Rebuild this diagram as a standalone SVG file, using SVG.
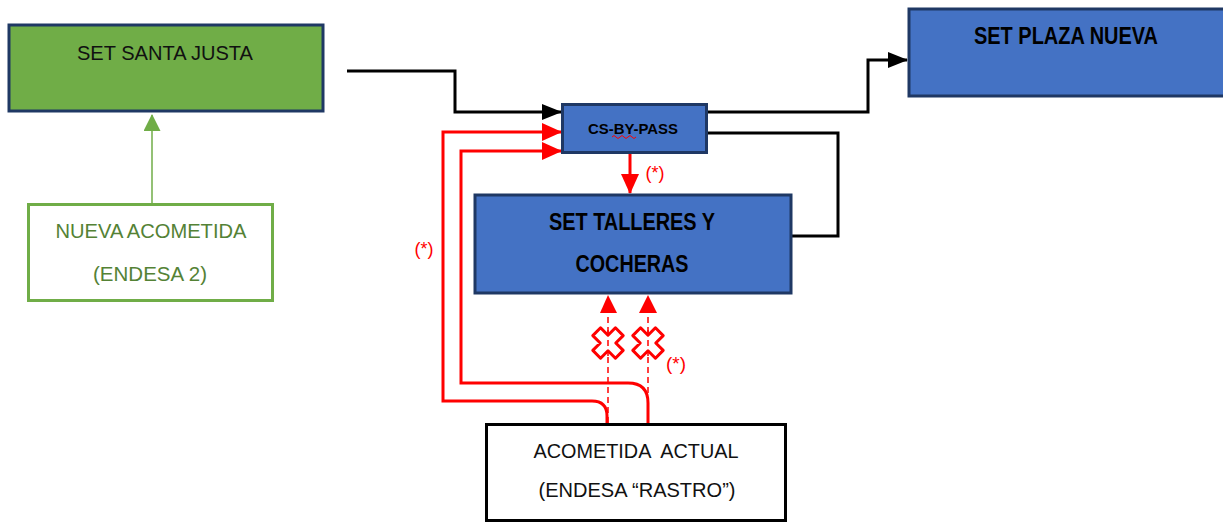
<svg xmlns="http://www.w3.org/2000/svg" width="1223" height="524" viewBox="0 0 1223 524">
<style>
.t{font-family:"Liberation Sans",Arial,sans-serif;text-anchor:middle;white-space:pre}
.b{font-weight:bold;fill:#000}
.n{fill:#111}
.g{fill:#548235}
.r{fill:#ff0000;font-size:19px}
.blue{fill:#4472C4;stroke:#1F3864;stroke-width:3}
.blk{fill:none;stroke:#000;stroke-width:3}
.red{fill:none;stroke:#ff0000;stroke-width:3}
.dash{fill:none;stroke:#ff0000;stroke-width:1.5;stroke-dasharray:6 4}
</style>
<defs>
<marker id="ab" markerWidth="20" markerHeight="16" refX="19" refY="8" orient="auto" markerUnits="userSpaceOnUse"><path d="M0,0 L20,8 L0,16 Z" fill="#000"/></marker>
<marker id="ar" markerWidth="20" markerHeight="18" refX="19" refY="9" orient="auto" markerUnits="userSpaceOnUse"><path d="M0,0 L20,9 L0,18 Z" fill="#ff0000"/></marker>
<marker id="ag" markerWidth="17" markerHeight="17" refX="16" refY="8.5" orient="auto" markerUnits="userSpaceOnUse"><path d="M0,0 L17,8.5 L0,17 Z" fill="#70AD47"/></marker>
<path id="xm" d="M-5.5,-16 L5.5,-16 L5.5,-5.5 L16,-5.5 L16,5.5 L5.5,5.5 L5.5,16 L-5.5,16 L-5.5,5.5 L-16,5.5 L-16,-5.5 L-5.5,-5.5 Z" fill="#fff" stroke="#ff0000" stroke-width="3" stroke-linejoin="round"/>
</defs>

<g id="connectors">
<path class="blk" d="M347,71 H455 V112 H561" marker-end="url(#ab)"/>
<path class="blk" d="M707,112 H868 V60 H907" marker-end="url(#ab)"/>
<path class="blk" d="M707,133 H838 V236 H789"/>
<path d="M152,203 V115" stroke="#70AD47" stroke-width="1.5" fill="none" marker-end="url(#ag)"/>
<path class="red" d="M630,154 V193" marker-end="url(#ar)"/>
<path class="red" d="M607,423 V416 Q607,401 592,401 H443 V132 H561" marker-end="url(#ar)"/>
<path class="red" d="M648,423 V403 Q648,383 628,383 H461 V151 H561" marker-end="url(#ar)"/>
<path class="dash" d="M608,423 V310"/>
<path class="dash" d="M648,423 V310"/>
<path d="M600,313 L608,295 L617,313 Z" fill="#ff0000"/>
<path d="M639,313 L648,295 L657,313 Z" fill="#ff0000"/>
<use href="#xm" transform="translate(608,343) rotate(45)"/>
<use href="#xm" transform="translate(648,343) rotate(45)"/>
<line x1="608" y1="330" x2="608" y2="356" stroke="#ff0000" stroke-width="1.5" stroke-dasharray="6 4"/>
<line x1="648" y1="330" x2="648" y2="356" stroke="#ff0000" stroke-width="1.5" stroke-dasharray="6 4"/>
<text class="t r" x="655" y="179" textLength="19" lengthAdjust="spacingAndGlyphs">(*)</text>
<text class="t r" x="424" y="255" textLength="19" lengthAdjust="spacingAndGlyphs">(*)</text>
<text class="t r" x="676" y="370" textLength="20" lengthAdjust="spacingAndGlyphs">(*)</text>
</g>

<g id="set-santa-justa">
<rect x="9" y="25" width="314" height="86" fill="#70AD47" stroke="#1F3864" stroke-width="3"/>
<text class="t n" x="165" y="60" font-size="21" textLength="176" lengthAdjust="spacingAndGlyphs">SET SANTA JUSTA</text>
</g>

<g id="nueva-acometida">
<rect x="28.5" y="204.5" width="244" height="96" fill="#fff" stroke="#70AD47" stroke-width="3"/>
<text class="t g" x="151" y="238" font-size="21" textLength="191" lengthAdjust="spacingAndGlyphs">NUEVA ACOMETIDA</text>
<text class="t g" x="150" y="281" font-size="21" textLength="114" lengthAdjust="spacingAndGlyphs">(ENDESA 2)</text>
</g>

<g id="cs-by-pass">
<rect class="blue" x="562.5" y="104.5" width="144" height="48"/>
<text class="t b" x="633" y="134" font-size="14" textLength="90" lengthAdjust="spacingAndGlyphs">CS-BY-PASS</text>
<path d="M612,137 q2,-3 4,0 t4,0 t4,0 t4,0 t4,0 t4,0" fill="none" stroke="#ff0000" stroke-width="1"/>
</g>

<g id="set-talleres">
<rect class="blue" x="475" y="195" width="316" height="98"/>
<text class="t b" x="632" y="230" font-size="23" textLength="166" lengthAdjust="spacingAndGlyphs">SET TALLERES Y</text>
<text class="t b" x="632" y="272" font-size="23" textLength="113" lengthAdjust="spacingAndGlyphs">COCHERAS</text>
</g>

<g id="set-plaza-nueva">
<rect class="blue" x="909" y="9" width="320" height="87"/>
<text class="t b" x="1066" y="44" font-size="23" textLength="184" lengthAdjust="spacingAndGlyphs">SET PLAZA NUEVA</text>
</g>

<g id="acometida-actual">
<rect x="486.5" y="424.5" width="299" height="96" fill="#fff" stroke="#000" stroke-width="3"/>
<text class="t n" x="636" y="458" font-size="21" textLength="205" lengthAdjust="spacingAndGlyphs">ACOMETIDA  ACTUAL</text>
<text class="t n" x="637" y="497" font-size="21" textLength="197" lengthAdjust="spacingAndGlyphs">(ENDESA “RASTRO”)</text>
</g>
</svg>
